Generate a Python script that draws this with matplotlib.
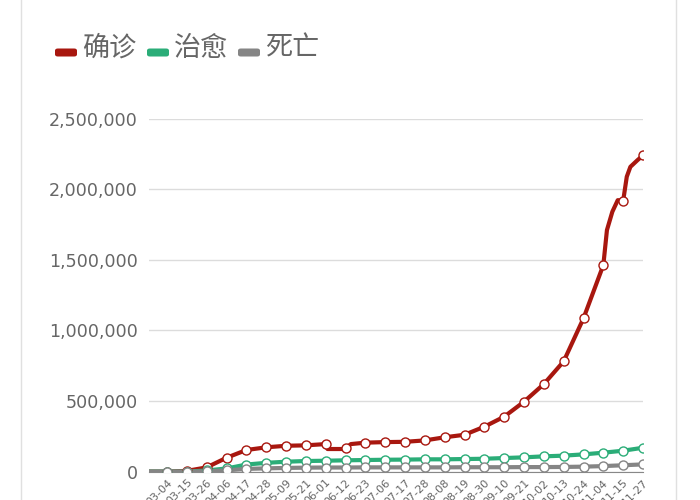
import matplotlib
matplotlib.use('Agg')
from matplotlib import pyplot as plt
from matplotlib.lines import Line2D
from matplotlib.patches import FancyBboxPatch
from matplotlib.ticker import FuncFormatter
import numpy as np

plt.rcParams['font.family'] = ['Noto Sans CJK SC', 'DejaVu Sans']

# x tick labels, one every 11 categories (marker points)
dates = ['03-04', '03-15', '03-26', '04-06', '04-17', '04-28', '05-09',
         '05-21', '06-01', '06-12', '06-23', '07-06', '07-17', '07-28',
         '08-08', '08-19', '08-30', '09-10', '09-21', '10-02', '10-13',
         '10-24', '11-04', '11-15', '11-27']
step = 11

# values at the labelled dates
confirmed = [0, 5000, 30000, 98000, 153000, 172000, 183000, 186000, 195000,
             165000, 205000, 209000, 211000, 221000, 243000, 261000, 318000,
             389000, 495000, 620000, 781000, 1086000, 1463000, 1918000, 2240000]
recovered = [0, 0, 8000, 22000, 50000, 62000, 70000, 75000, 77000, 80000,
             82000, 84000, 85000, 87000, 87000, 89000, 91000, 96000, 101000,
             108000, 113000, 122000, 134000, 148000, 169000]
deaths = [0, 100, 2000, 9000, 19000, 23000, 26000, 28000, 29000, 29000,
          30000, 30000, 30000, 30000, 30000, 31000, 31000, 31000, 32000,
          32000, 33000, 35000, 39000, 45000, 51000]

# extra points of the confirmed curve between markers (category index, value)
extra_idx = [-10, 89, 98, 102, 244, 247, 250, 255, 257, 261]
extra_confirmed = [0, 160000, 160000, 195000, 1711000, 1841000, 1923000,
                   2089000, 2159000, 2207000]

names = ['确诊', '治愈', '死亡']
colors = ['#a8170f', '#2bad78', '#858585']

fig = plt.figure(figsize=(7, 5), dpi=100)
ax = fig.add_axes([149 / 700, 28.4 / 500, 494 / 700, 352.9 / 500])

mark_idx = np.arange(len(dates)) * step


def merged(values, idx_extra=None, val_extra=None):
    xs = list(mark_idx)
    ys = list(values)
    if idx_extra is not None:
        xs += idx_extra
        ys += val_extra
    order = np.argsort(xs)
    return np.array(xs)[order], np.array(ys)[order]


series = [merged(confirmed, extra_idx, extra_confirmed),
          merged(recovered, [-10], [0]),
          merged(deaths, [-10], [0])]

for (xs, ys), c, n in zip(series, colors, names):
    ax.plot(xs, ys, color=c, lw=3, solid_capstyle='round', zorder=3)
    mx = [x for x in xs if x in set(mark_idx)]
    my = [y for x, y in zip(xs, ys) if x in set(mark_idx)]
    ax.plot(mx, my, ls='none', marker='o', ms=6.5, mfc='white', mec=c,
            mew=1, zorder=4)

ax.set_xlim(-10, 264)
ax.set_ylim(0, 2500000)
ax.set_yticks(np.arange(0, 2500001, 500000))
ax.yaxis.set_major_formatter(FuncFormatter(lambda v, p: '{:,.0f}'.format(v)))
ax.set_xticks(mark_idx)
ax.set_xticklabels(dates, rotation=45, ha='right', rotation_mode='anchor',
                   fontsize=8, color='#666666', family='DejaVu Sans')
ax.tick_params(axis='x', length=0, pad=4)
ax.tick_params(axis='y', length=0, pad=8, labelsize=12.6, labelcolor='#666666')
for lab in ax.get_yticklabels():
    lab.set_family('DejaVu Sans')

ax.grid(axis='y', color='#dcdcdc', lw=1)
ax.set_axisbelow(True)
for s in ['top', 'right', 'left']:
    ax.spines[s].set_visible(False)
ax.spines['bottom'].set_color('#888888')
ax.spines['bottom'].set_linewidth(0.8)

# card borders
fig.add_artist(Line2D([20.5 / 700, 20.5 / 700], [0, 1], color='#e0e0e0', lw=1))
fig.add_artist(Line2D([675.5 / 700, 675.5 / 700], [0, 1], color='#e0e0e0', lw=1))

# legend
legend_x = [55, 147, 238]
for x0, c, n in zip(legend_x, colors, names):
    fig.add_artist(FancyBboxPatch((x0 / 700, (500 - 56.5) / 500), 22 / 700, 8 / 500,
                                  boxstyle='round,pad=0,rounding_size=0.004',
                                  fc=c, ec='none', transform=fig.transFigure))
    fig.text((x0 + 27) / 700, (500 - 48) / 500, n, fontsize=19.5, color='#666666',
             va='center', ha='left')

fig.savefig('out.png', dpi=100)
